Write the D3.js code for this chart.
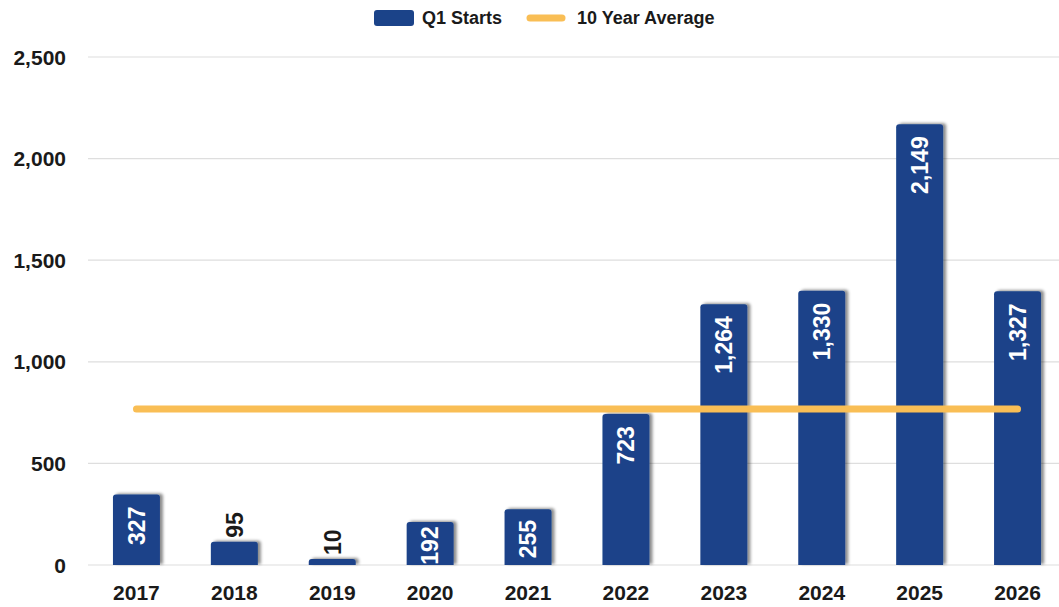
<!DOCTYPE html>
<html><head><meta charset="utf-8">
<script src="https://cdn.jsdelivr.net/npm/d3@7"></script>
<style>
html,body{margin:0;padding:0;background:#fff;}
svg{display:block;font-family:"Liberation Sans",Arial,sans-serif;}
</style></head>
<body>
<svg id="chart" width="1059" height="607"></svg>
<script>
const years = ["2017","2018","2019","2020","2021","2022","2023","2024","2025","2026"];
const q1Starts = [327, 95, 10, 192, 255, 723, 1264, 1330, 2149, 1327];
const tenYearAverage = [767.2, 767.2, 767.2, 767.2, 767.2, 767.2, 767.2, 767.2, 767.2, 767.2];
const yTicks = [0, 500, 1000, 1500, 2000, 2500];
const seriesNames = ["Q1 Starts", "10 Year Average"];

const barColor = "#1B4389";
const lineColor = "#F9BE55";
const textColor = "#1a1a1a";

const svg = d3.select("#chart");
const W = 1059, H = 607;

const x = d3.scaleBand().domain(years).range([87.5, 1066.5]).paddingInner(0.52).paddingOuter(0.26);
const y = d3.scaleLinear().domain([0, 2500]).range([565, 57]);
const capExtra = 4; // rounded cap drawn slightly above value as in the reference

const defs = svg.append("defs");
const f = defs.append("filter").attr("id","shadow").attr("x","-20%").attr("y","-20%").attr("width","150%").attr("height","140%");
f.append("feDropShadow").attr("dx",3).attr("dy",-1).attr("stdDeviation",1.8).attr("flood-color","#000").attr("flood-opacity",0.45);

// gridlines
svg.append("g").selectAll("line").data(yTicks).join("line")
  .attr("x1", 88).attr("x2", W)
  .attr("y1", d => y(d)).attr("y2", d => y(d))
  .attr("stroke", "#dedede").attr("stroke-width", 1.2);

// y axis labels
const fmt = d3.format(",");
svg.append("g").selectAll("text").data(yTicks).join("text")
  .attr("x", 66).attr("y", d => y(d)).attr("dy", "0.36em")
  .attr("text-anchor", "end").attr("font-size", 21).attr("font-weight", "bold")
  .attr("fill", textColor).text(d => fmt(d));

// x axis labels
svg.append("g").selectAll("text").data(years).join("text")
  .attr("x", d => x(d) + x.bandwidth()/2).attr("y", 600)
  .attr("text-anchor", "middle").attr("font-size", 21).attr("font-weight", "bold")
  .attr("fill", textColor).text(d => d);

// bars with rounded top corners
function barPath(x0, w, yTop, yBot, r) {
  r = Math.min(r, (yBot - yTop), w/2);
  return `M${x0},${yBot}V${yTop + r}Q${x0},${yTop} ${x0 + r},${yTop}H${x0 + w - r}Q${x0 + w},${yTop} ${x0 + w},${yTop + r}V${yBot}Z`;
}
const data = years.map((yr, i) => ({yr, v: q1Starts[i], avg: tenYearAverage[i]}));
const barTop = d => y(d.v) - capExtra;
svg.append("g").attr("filter","url(#shadow)").selectAll("path").data(data).join("path")
  .attr("d", d => barPath(x(d.yr), x.bandwidth(), barTop(d), y(0), 3))
  .attr("fill", barColor);

// average line
const line = d3.line().x(d => x(d.yr) + x.bandwidth()/2).y(d => y(d.avg));
svg.append("path").datum(data).attr("d", line)
  .attr("fill", "none").attr("stroke", lineColor).attr("stroke-width", 7).attr("stroke-linecap", "round");

// data labels
const isInside = d => (y(0) - barTop(d)) > 30;
const labels = svg.append("g").selectAll("text").data(data).join("text")
  .attr("text-anchor", d => isInside(d) ? "end" : "start")
  .attr("dy", "0.36em")
  .attr("font-size", 23).attr("font-weight", "bold")
  .attr("fill", d => isInside(d) ? "#fff" : textColor)
  .text(d => fmt(d.v));
labels.attr("transform", function(d) {
  const cx = x(d.yr) + x.bandwidth()/2;
  let yy;
  if (isInside(d)) {
    const len = this.getComputedTextLength();
    const h = y(0) - barTop(d);
    yy = barTop(d) + Math.max(3, Math.min(12, (h - len) / 2 + 2));
  } else {
    yy = barTop(d) - 4;
  }
  return `translate(${cx},${yy}) rotate(-90)`;
});

// legend
const lg = svg.append("g");
lg.append("rect").attr("x", 374).attr("y", 10).attr("width", 40).attr("height", 16).attr("rx", 3).attr("fill", barColor);
lg.append("text").attr("x", 422).attr("y", 18).attr("dy","0.36em").attr("font-size", 18).attr("font-weight","bold").attr("fill", textColor).text(seriesNames[0]);
lg.append("line").attr("x1", 530).attr("x2", 562).attr("y1", 18).attr("y2", 18).attr("stroke", lineColor).attr("stroke-width", 7).attr("stroke-linecap","round");
lg.append("text").attr("x", 577).attr("y", 18).attr("dy","0.36em").attr("font-size", 18).attr("font-weight","bold").attr("fill", textColor).text(seriesNames[1]);
</script>
</body></html>
